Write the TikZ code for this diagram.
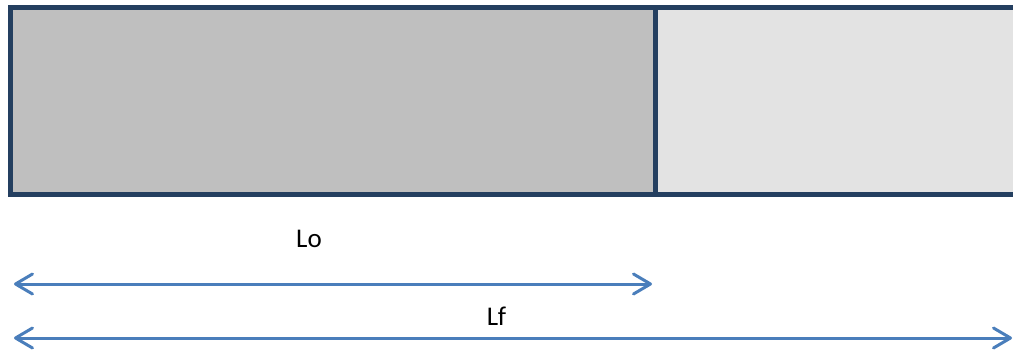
\documentclass[tikz,border=0pt]{standalone}
\usepackage{fontspec}
\setmainfont{Carlito}
\usetikzlibrary{arrows.meta}
\definecolor{frame}{RGB}{36,63,96}
\definecolor{oldpart}{RGB}{191,191,191}
\definecolor{newpart}{RGB}{227,227,227}
\definecolor{dim}{RGB}{74,126,187}
\tikzset{
  bar/.style={draw=frame, line width=5pt, inner sep=0pt, outer sep=0pt},
  dimline/.style={draw=dim, line width=3pt,
    {Straight Barb[length=17pt,width=20pt,line width=3pt,round]}-{Straight Barb[length=17pt,width=20pt,line width=3pt,round]}},
  lbl/.style={font=\fontsize{27}{32}\selectfont, inner sep=0pt}
}
\begin{document}
\begin{tikzpicture}[x=1pt,y=-1pt]
  \clip (0,0) rectangle (1013,349);
  \useasboundingbox (0,0) rectangle (1013,349);
  % original length and elongation
  \node[bar, fill=oldpart, minimum width=644.5pt, minimum height=186.5pt, anchor=north west] (orig) at (10.5,7.5) {};
  \node[bar, fill=newpart, minimum width=365pt, minimum height=186.5pt, anchor=north west] (ext) at (655,7.5) {};
  \draw[frame, line width=5pt] (orig.north east) -- (orig.south east);
  % dimension arrows
  \coordinate (loA) at (14,284);
  \coordinate (loB) at (652,284);
  \coordinate (lfA) at (14,338);
  \coordinate (lfB) at (1012,338);
  \draw[dimline] (loA) -- (loB);
  \draw[dimline] (lfA) -- (lfB);
  \node[lbl] (lo) at (309,239) {Lo};
  \node[lbl] (lf) at (496.5,316) {Lf};
\end{tikzpicture}
\end{document}
